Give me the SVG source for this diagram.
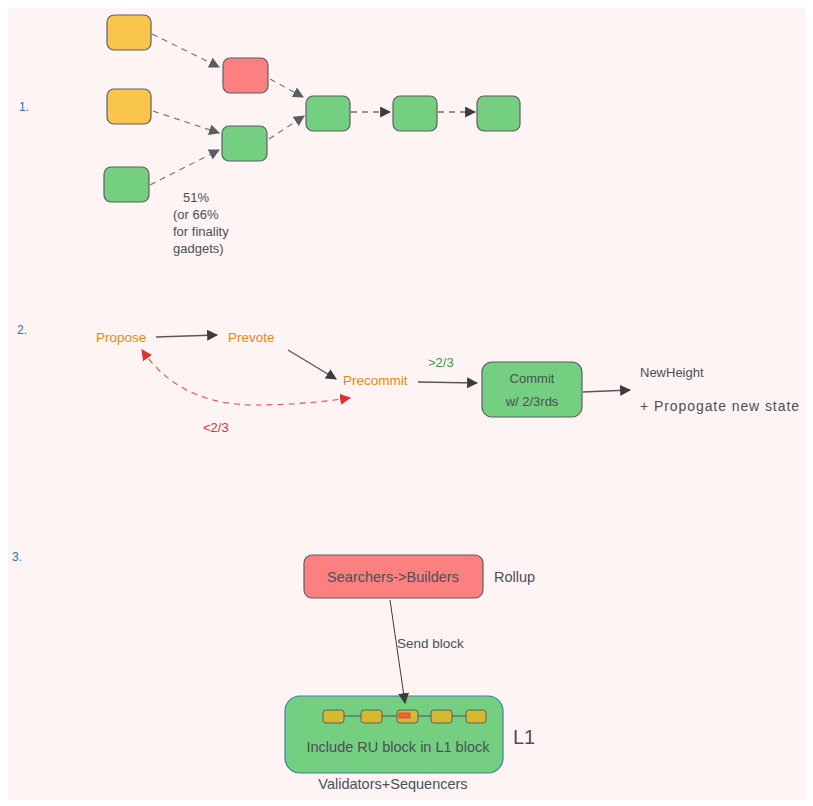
<svg xmlns="http://www.w3.org/2000/svg" width="813" height="806" viewBox="0 0 813 806">
<defs>
<style>
.t{font-family:"Liberation Sans",Arial,sans-serif;font-size:13px;fill:#495057}
.num{font-family:"Liberation Sans",Arial,sans-serif;font-size:12px;fill:#1971c2}
.or{fill:#e8890c}
.box{stroke:#5c5f62;stroke-width:1.2}
.g{fill:#74cf80}
.y{fill:#f9c54c}
.r{fill:#fd8080}
.dash{fill:none;stroke:#6b6e72;stroke-width:1.1;stroke-dasharray:6 5}
.dashk{fill:none;stroke:#2d2f31;stroke-width:1.2;stroke-dasharray:6 5}
.solid{fill:none;stroke:#55585b;stroke-width:1.4}
.red{fill:none;stroke:#e5484d;stroke-width:1.1;stroke-dasharray:6 5}
</style>
<marker id="ag" viewBox="0 0 10 10" refX="9" refY="5" markerWidth="11" markerHeight="11" markerUnits="userSpaceOnUse" orient="auto"><path d="M0,0 L10,5 L0,10 Z" fill="#5a5d61"/></marker>
<marker id="ak" viewBox="0 0 10 10" refX="9" refY="5" markerWidth="11" markerHeight="11" markerUnits="userSpaceOnUse" orient="auto"><path d="M0,0 L10,5 L0,10 Z" fill="#3a3c3f"/></marker>
<marker id="ar" viewBox="0 0 10 10" refX="9" refY="5" markerWidth="11" markerHeight="11" markerUnits="userSpaceOnUse" orient="auto"><path d="M0,0 L10,5 L0,10 Z" fill="#e03131"/></marker>
<marker id="ars" viewBox="0 0 10 10" refX="1" refY="5" markerWidth="11" markerHeight="11" markerUnits="userSpaceOnUse" orient="auto"><path d="M10,0 L0,5 L10,10 Z" fill="#e03131"/></marker>
</defs>
<rect x="0" y="0" width="813" height="806" fill="#ffffff"/>
<rect x="8" y="8" width="798" height="792" fill="#fff4f4"/>

<text class="num" x="19" y="111">1.</text>
<text class="num" x="17" y="334">2.</text>
<text class="num" x="12" y="561">3.</text>

<g id="s1-y1"><rect class="box y" x="107" y="15" width="44" height="35" rx="7"/></g>
<g id="s1-r"><rect class="box r" x="223" y="58" width="45" height="35" rx="7"/></g>
<g id="s1-y2"><rect class="box y" x="107" y="89" width="44" height="35" rx="7"/></g>
<g id="s1-gm"><rect class="box g" x="222" y="126" width="45" height="35" rx="7"/></g>
<g id="s1-gbl"><rect class="box g" x="104" y="167" width="45" height="35" rx="7"/></g>
<g id="s1-ga"><rect class="box g" x="306" y="96" width="44" height="35" rx="7"/></g>
<g id="s1-gb"><rect class="box g" x="393" y="96" width="44" height="35" rx="7"/></g>
<g id="s1-gc"><rect class="box g" x="477" y="96" width="43" height="35" rx="7"/></g>
<g id="s1-note">
<text class="t" x="183" y="202">51%</text>
<text class="t" x="173" y="219">(or 66%</text>
<text class="t" x="173" y="236">for finality</text>
<text class="t" x="173" y="253">gadgets)</text>
</g>

<g id="s2-propose"><text class="t or" x="96" y="342" style="font-size:13.5px">Propose</text></g>
<g id="s2-prevote"><text class="t or" x="228" y="342" style="font-size:13.5px">Prevote</text></g>
<g id="s2-precommit"><text class="t or" x="343" y="385" style="font-size:13.5px">Precommit</text></g>
<g id="s2-commit">
<rect class="box g" x="482" y="362" width="100" height="55" rx="10"/>
<text class="t" x="532" y="383" text-anchor="middle">Commit</text>
<text class="t" x="532" y="406" text-anchor="middle">w/ 2/3rds</text>
</g>
<g id="s2-newheight">
<text class="t" x="640" y="377">NewHeight</text>
<text class="t" x="640" y="411" style="font-size:14px" textLength="159" lengthAdjust="spacing">+ Propogate new state</text>
</g>
<text class="t" x="428" y="367" style="fill:#2f9e44">&gt;2/3</text>
<text class="t" x="203" y="432" style="fill:#e03131">&lt;2/3</text>

<g id="s3-rollup">
<rect class="box r" x="304" y="555" width="179" height="43" rx="8"/>
<text class="t" x="393" y="582" text-anchor="middle" style="font-size:14.5px">Searchers-&gt;Builders</text>
<text class="t" x="494" y="582" style="font-size:14.5px">Rollup</text>
</g>
<g id="s3-l1">
<rect x="285" y="696" width="218" height="77" rx="15" fill="#74cf80" stroke="#3a7ea8" stroke-width="1.2"/>
<g stroke="#495057" stroke-width="1">
<line x1="344" y1="716" x2="361" y2="716"/>
<line x1="382" y1="716" x2="397" y2="716"/>
<line x1="418" y1="716" x2="431" y2="716"/>
<line x1="452" y1="716" x2="466" y2="716"/>
</g>
<g fill="#d4b92e" stroke="#5c5f62" stroke-width="1">
<rect x="323" y="710" width="21" height="13" rx="3"/>
<rect x="361" y="710" width="21" height="13" rx="3"/>
<rect x="397" y="710" width="21" height="13" rx="3"/>
<rect x="431" y="710" width="21" height="13" rx="3"/>
<rect x="466" y="710" width="20" height="13" rx="3"/>
</g>
<rect x="399" y="713" width="11" height="5" fill="#f0643c" stroke="#c0392b" stroke-width="0.6"/>
<text class="t" x="398" y="752" text-anchor="middle" style="font-size:14.5px">Include RU block in L1 block</text>
<text class="t" x="513" y="744" style="font-size:20px">L1</text>
<text class="t" x="393" y="789" text-anchor="middle" style="font-size:14.5px">Validators+Sequencers</text>
</g>

<g id="connectors">
<path class="dash" d="M152,34 L219,67" marker-end="url(#ag)"/>
<path class="dash" d="M270,79 L303,97" marker-end="url(#ag)"/>
<path class="dash" d="M153,111 L219,133" marker-end="url(#ag)"/>
<path class="dash" d="M150,185 L219,150" marker-end="url(#ag)"/>
<path class="dash" d="M269,139 L304,116" marker-end="url(#ag)"/>
<path class="dashk" d="M351,112 L390,112" marker-end="url(#ak)"/>
<path class="dashk" d="M438,112 L475,112" marker-end="url(#ak)"/>

<path class="solid" d="M156,337 L217,335" marker-end="url(#ak)"/>
<path class="solid" d="M288,350 L336,379" marker-end="url(#ak)" stroke-width="2"/>
<path class="solid" d="M418,382 L477,383" marker-end="url(#ak)"/>
<path class="solid" d="M583,392 L630,390" marker-end="url(#ak)"/>
<path class="red" d="M142,350 Q180,405 255,405 Q300,405 350,398" marker-start="url(#ars)" marker-end="url(#ar)"/>

<path d="M390,600 L405,703" fill="none" stroke="#3a3c3f" stroke-width="1" marker-end="url(#ak)"/>
<text class="t" x="397" y="648" style="font-size:13.5px">Send block</text>
</g>
</svg>
